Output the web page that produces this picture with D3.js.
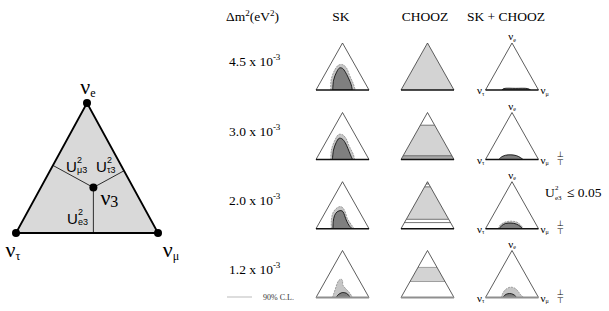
<!DOCTYPE html>
<html>
<head>
<meta charset="utf-8">
<script src="https://cdn.jsdelivr.net/npm/d3@7"></script>
<style>
  body { margin: 0; background: #fff; }
  svg { display: block; font-family: "Liberation Serif", "DejaVu Serif", serif; }
</style>
</head>
<body>
<svg id="chart" width="609" height="311"></svg>
<script>
// data: mixing-triangle values, all points are [Ue3², Uμ3²] (Uτ3² = 1 - both)
const massValues = ["4.5", "3.0", "2.0", "1.2"];
const columnTitles = ["SK", "CHOOZ", "SK + CHOOZ"];
const nu3Point = [0.35, 0.37];

// SK 90% C.L. allowed regions (outer = light band, inner = dark)
const skOuter = [
  [[0, 0.28], [0.21, 0.18], [0.43, 0.14], [0.53, 0.16], [0.54, 0.23], [0.47, 0.34], [0.32, 0.47], [0.13, 0.64], [0, 0.74]],
  [[0, 0.28], [0.2, 0.19], [0.42, 0.15], [0.53, 0.16], [0.53, 0.23], [0.45, 0.34], [0.3, 0.47], [0.12, 0.64], [0, 0.73]],
  [[0, 0.29], [0.18, 0.2], [0.35, 0.15], [0.45, 0.18], [0.47, 0.23], [0.44, 0.29], [0.36, 0.37], [0.22, 0.48], [0.08, 0.63], [0, 0.72]],
  [[0, 0.31], [0.1, 0.29], [0.2, 0.27], [0.3, 0.25], [0.37, 0.25], [0.39, 0.28], [0.36, 0.32], [0.27, 0.37], [0.2, 0.45], [0.11, 0.57], [0, 0.69]]
];
const skInner = [
  [[0, 0.315], [0.21, 0.227], [0.38, 0.198], [0.47, 0.21], [0.46, 0.27], [0.38, 0.365], [0.26, 0.48], [0.11, 0.61], [0, 0.685]],
  [[0, 0.31], [0.2, 0.23], [0.36, 0.2], [0.45, 0.21], [0.44, 0.27], [0.36, 0.37], [0.24, 0.48], [0.1, 0.6], [0, 0.69]],
  [[0, 0.32], [0.15, 0.25], [0.28, 0.21], [0.36, 0.22], [0.385, 0.28], [0.36, 0.33], [0.28, 0.4], [0.16, 0.5], [0.06, 0.6], [0, 0.68]],
  [[0, 0.38], [0.06, 0.39], [0.1, 0.43], [0.105, 0.46], [0.09, 0.53], [0.05, 0.59], [0, 0.64]]
];

// CHOOZ excluded bands in Ue3² and contour levels
const choozBands = [[[0, 1]], [[0.08, 0.73]], [[0.2, 0.89], [0.95, 1]], [[0.34, 0.64]]];
const choozDarkBands = [[], [[0, 0.08]], [], []];
const choozLines = [[], [0.08, 0.73], [0.13, 0.2, 0.89, 0.95], [0.34, 0.64]];

// SK + CHOOZ combined regions
const combOuter = [
  null,
  null,
  [[0, 0.24], [0.08, 0.24], [0.14, 0.3], [0.16, 0.4], [0.14, 0.52], [0.08, 0.62], [0, 0.72]],
  [[0, 0.3], [0.1, 0.28], [0.18, 0.3], [0.22, 0.36], [0.2, 0.45], [0.14, 0.54], [0.07, 0.62], [0, 0.72]]
];
const combInner = [
  [[0, 0.31], [0.03, 0.33], [0.035, 0.55], [0.03, 0.78], [0, 0.85]],
  [[0, 0.25], [0.05, 0.27], [0.09, 0.33], [0.1, 0.43], [0.08, 0.55], [0.04, 0.64], [0, 0.71]],
  [[0, 0.26], [0.06, 0.27], [0.11, 0.32], [0.12, 0.42], [0.1, 0.53], [0.05, 0.63], [0, 0.7]],
  [[0, 0.33], [0.05, 0.34], [0.08, 0.38], [0.08, 0.45], [0.05, 0.52], [0, 0.59]]
];

const svg = d3.select("#chart");

const lightFill = "#c6c6c6";
const darkFill = "#7f7f7f";
const choozFill = "#d3d3d3";

// ternary -> (u, v) in a unit triangle: tau at (0,0), mu at (1,0), e at (0.5,1)
const tern = p => [p[1] + p[0] / 2, p[0]];

//---------------- big triangle on the left
const bx = d3.scaleLinear().domain([0, 1]).range([16, 158]);
const by = d3.scaleLinear().domain([0, 1]).range([233, 103]);
const bp = p => { const t = tern(p); return [bx(t[0]), by(t[1])]; };

const vTau = bp([0, 0]), vMu = bp([0, 1]), vE = bp([1, 0]);
const c = bp(nu3Point);

svg.append("path")
  .attr("d", d3.line()([vTau, vMu, vE]) + "Z")
  .attr("fill", "#d9d9d9")
  .attr("stroke", "#000")
  .attr("stroke-width", 1.8)
  .attr("stroke-linejoin", "round");

// perpendicular feet from nu3 to each side
const foot = (a, b) => {
  const dx = b[0] - a[0], dy = b[1] - a[1];
  const t = ((c[0] - a[0]) * dx + (c[1] - a[1]) * dy) / (dx * dx + dy * dy);
  return [a[0] + t * dx, a[1] + t * dy];
};
[foot(vTau, vE), foot(vMu, vE), foot(vTau, vMu)].forEach(f => {
  svg.append("line")
    .attr("x1", c[0]).attr("y1", c[1])
    .attr("x2", f[0]).attr("y2", f[1])
    .attr("stroke", "#000").attr("stroke-width", 0.8);
});

[vTau, vMu, vE, c].forEach(v => {
  svg.append("circle").attr("cx", v[0]).attr("cy", v[1]).attr("r", 4).attr("fill", "#000");
});

const nuLabel = (x, y, sub, size, anchor) => {
  const t = svg.append("text").attr("x", x).attr("y", y)
    .attr("font-size", size).attr("text-anchor", anchor || "middle");
  t.append("tspan").text("ν");
  t.append("tspan").attr("font-size", size * 0.55).attr("dy", size * 0.15).text(sub);
  return t;
};
nuLabel(vE[0] + 1, vE[1] - 9, "e", 22);
nuLabel(vTau[0] - 3, vTau[1] + 24, "τ", 22);
nuLabel(vMu[0] + 13, vMu[1] + 24, "μ", 22);
nuLabel(c[0] + 7, c[1] + 17, "3", 22, "start").select("tspan:last-child").attr("font-size", 16).attr("dy", 2);

const uLabel = (x, y, sub) => {
  const g = svg.append("g").attr("font-family", "Liberation Sans, Arial, sans-serif");
  g.append("text").attr("x", x).attr("y", y).attr("font-size", 15).text("U");
  g.append("text").attr("x", x + 11).attr("y", y - 9).attr("font-size", 9).text("2");
  g.append("text").attr("x", x + 11).attr("y", y + 1).attr("font-size", 9).text(sub);
};
uLabel(66, 172, "μ3");
uLabel(96, 172, "τ3");
uLabel(67, 224, "e3");

//---------------- small triangles
const W = 53, H = 47;
const colLeft = [316, 401, 485.5];
const rowBase = [90, 159.5, 228.7, 297.5];

const header = svg.append("g").attr("font-size", 13.5);
const hTitle = header.append("text").attr("x", 226).attr("y", 21);
hTitle.append("tspan").text("Δm");
hTitle.append("tspan").attr("font-size", 9).attr("dy", -5).text("2");
hTitle.append("tspan").attr("dy", 5).text("(eV");
hTitle.append("tspan").attr("font-size", 9).attr("dy", -5).text("2");
hTitle.append("tspan").attr("dy", 5).text(")");
columnTitles.forEach((t, i) => {
  header.append("text")
    .attr("x", [341, 425, 506][i]).attr("y", 21)
    .attr("text-anchor", "middle").text(t);
});

const smoothLine = d3.line().curve(d3.curveCatmullRom.alpha(0.5));

massValues.forEach((m, r) => {
  const base = rowBase[r];

  const lbl = svg.append("text").attr("x", 229).attr("y", base - 24).attr("font-size", 13.5);
  lbl.append("tspan").text(m + " x 10");
  lbl.append("tspan").attr("font-size", 9).attr("dy", -6).text("-3");

  colLeft.forEach((left, ci) => {
    const x = d3.scaleLinear().domain([0, 1]).range([left, left + W]);
    const y = d3.scaleLinear().domain([0, 1]).range([base, base - H]);
    const pt = p => { const t = tern(p); return [x(t[0]), y(t[1])]; };
    const tri = [pt([0, 0]), pt([0, 1]), pt([1, 0])];
    const clipId = `clip-${r}-${ci}`;

    svg.append("clipPath").attr("id", clipId)
      .append("path").attr("d", d3.line()(tri) + "Z");

    const g = svg.append("g");
    const inside = g.append("g").attr("clip-path", `url(#${clipId})`);

    const region = (pts, fill, stroke, dash) => {
      inside.append("path")
        .attr("d", smoothLine(pts.map(pt)) + "Z")
        .attr("fill", fill)
        .attr("stroke", stroke)
        .attr("stroke-width", 0.8)
        .attr("stroke-dasharray", dash);
    };
    const band = (lo, hi, fill) => {
      inside.append("path")
        .attr("d", d3.line()([pt([lo, 0]), pt([lo, 1 - lo]), pt([hi, 1 - hi]), pt([hi, 0])]) + "Z")
        .attr("fill", fill);
    };

    if (ci === 0) {
      region(skOuter[r], lightFill, "#8a8a8a", "2,1");
      region(skInner[r], darkFill, "#000", null);
    } else if (ci === 1) {
      choozBands[r].forEach(b => band(b[0], b[1], choozFill));
      choozDarkBands[r].forEach(b => band(b[0], b[1], "#a8a8a8"));
      choozLines[r].forEach(lv => {
        const a = pt([lv, 0]), b = pt([lv, 1 - lv]);
        inside.append("line")
          .attr("x1", a[0]).attr("y1", a[1]).attr("x2", b[0]).attr("y2", b[1])
          .attr("stroke", r === 3 ? "#8a8a8a" : "#555").attr("stroke-width", 0.8);
      });
    } else {
      if (combOuter[r]) region(combOuter[r], lightFill, "#8a8a8a", "2,1");
      region(combInner[r], darkFill, "#000", null);
    }

    g.append("path")
      .attr("d", d3.line()([tri[0], tri[2], tri[1]]))
      .attr("fill", "none")
      .attr("stroke", "#333")
      .attr("stroke-width", 0.8);
    g.append("line")
      .attr("x1", tri[0][0]).attr("y1", base).attr("x2", tri[1][0]).attr("y2", base)
      .attr("stroke", r === 3 ? "#8f8f8f" : "#111")
      .attr("stroke-width", r === 3 ? 2 : 1.5);

    if (ci === 2) {
      nuLabel(tri[2][0], tri[2][1] - 3, "e", 11);
      nuLabel(tri[0][0] - 1, base + 4, "τ", 11, "end");
      nuLabel(tri[1][0] + 2, base + 4, "μ", 11, "start");
      if (r > 0) {
        const s = svg.append("g").attr("font-family", "DejaVu Sans, sans-serif")
          .attr("font-size", 8).attr("fill", "#000").attr("text-anchor", "middle");
        s.append("text").attr("x", tri[1][0] + 22).attr("y", base - 3).text("⊥");
        s.append("text").attr("x", tri[1][0] + 22).attr("y", base + 5).text("⊤");
      }
    }
  });
});

// Ue3² bound note
const note = svg.append("g").attr("font-size", 13.5);
note.append("text").attr("x", 545).attr("y", 197).text("U");
note.append("text").attr("x", 555).attr("y", 190).attr("font-size", 7).text("2");
note.append("text").attr("x", 555).attr("y", 200).attr("font-size", 7).text("e3");
note.append("text").attr("x", 567).attr("y", 197).text("≤ 0.05");

// legend
svg.append("line")
  .attr("x1", 227).attr("x2", 252).attr("y1", 297).attr("y2", 297)
  .attr("stroke", "#aaa").attr("stroke-width", 0.8);
svg.append("text").attr("x", 263).attr("y", 300).attr("font-size", 8).attr("fill", "#333").text("90% C.L.");
</script>
</body>
</html>
